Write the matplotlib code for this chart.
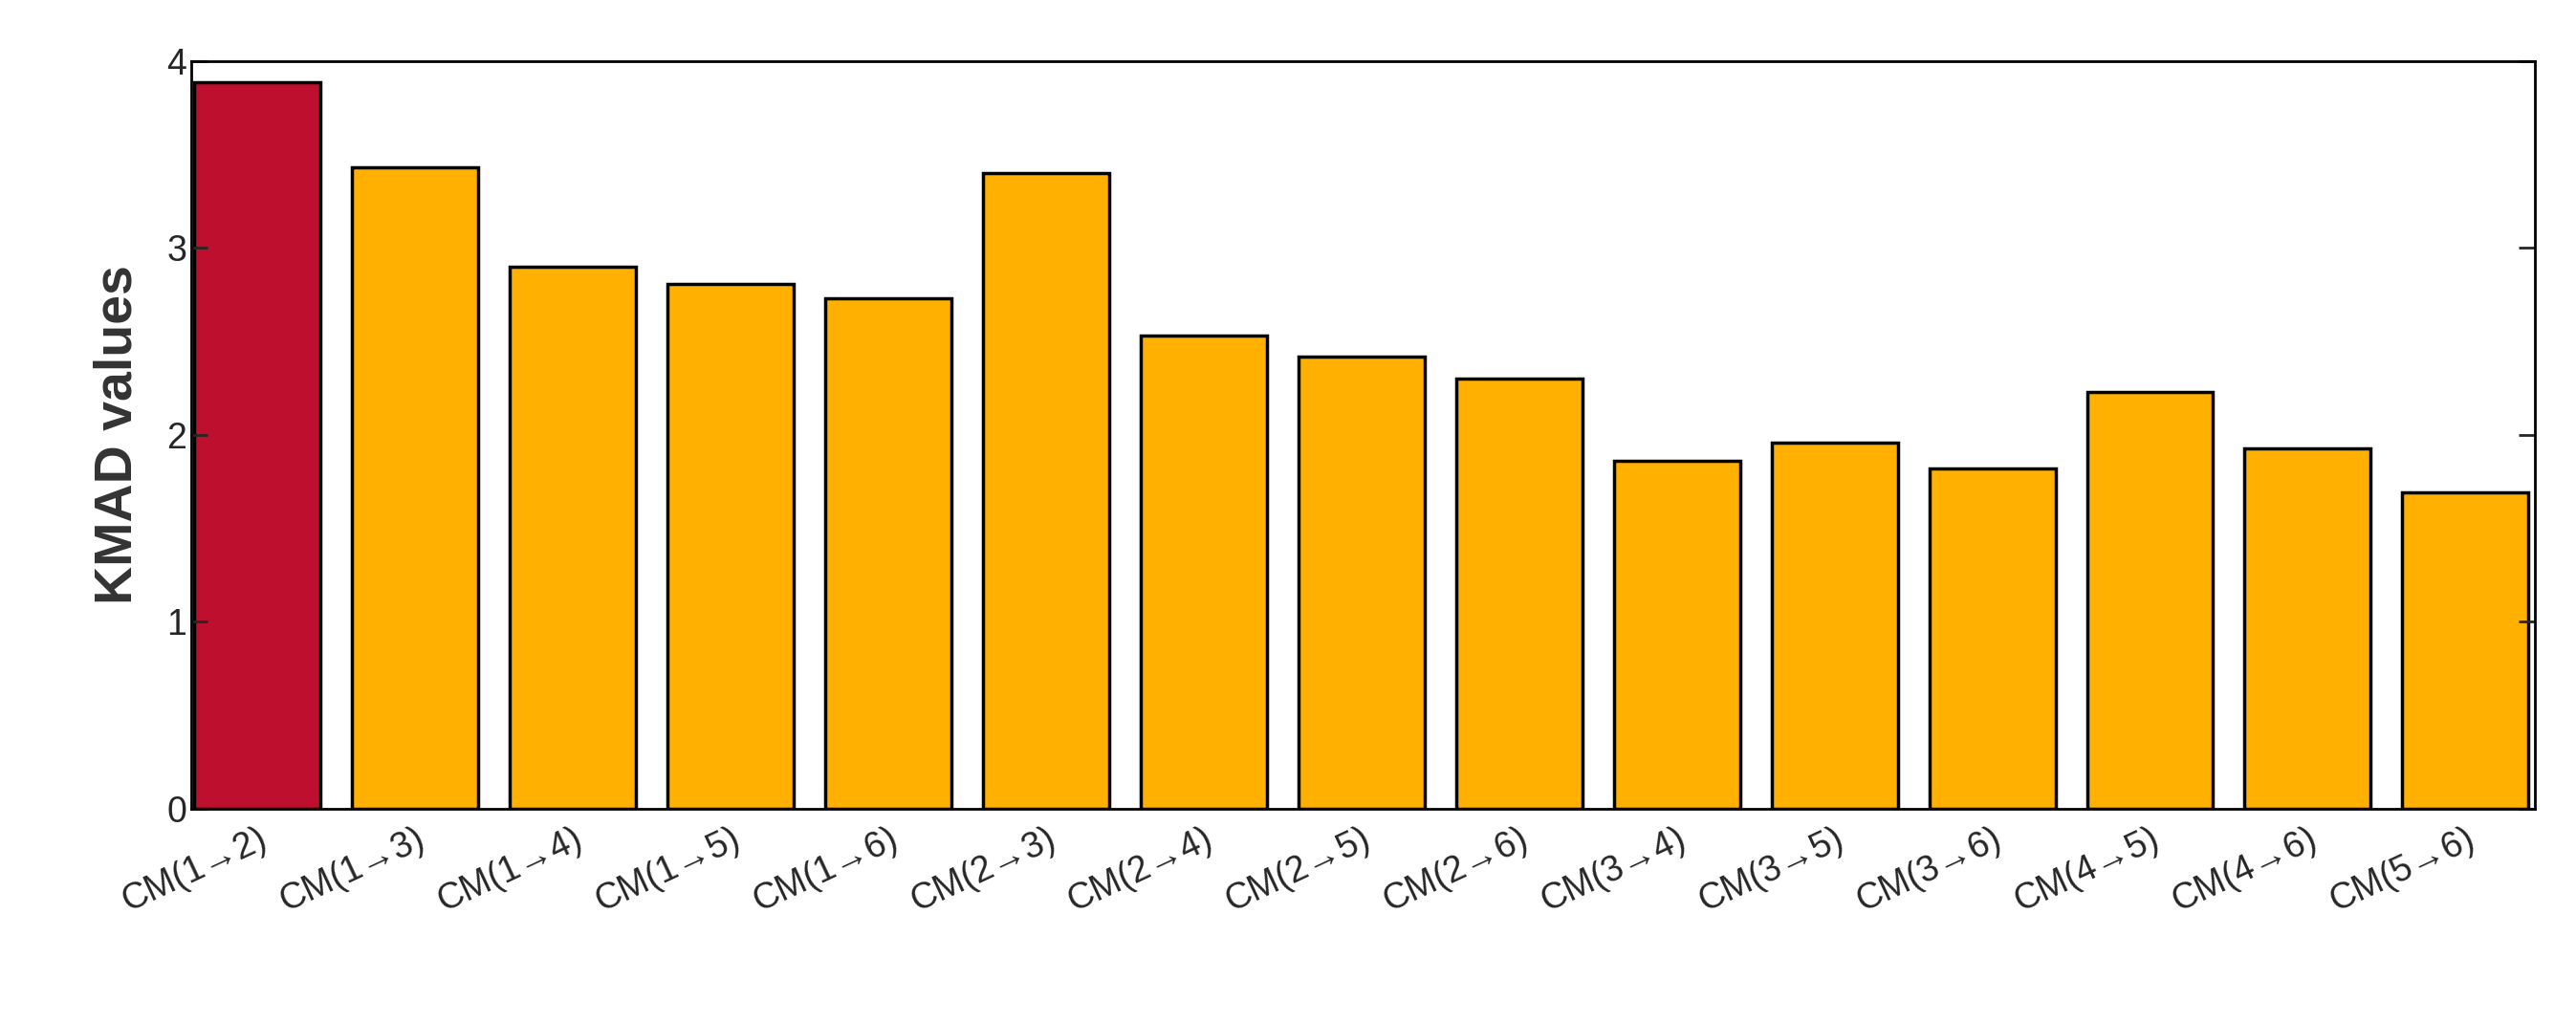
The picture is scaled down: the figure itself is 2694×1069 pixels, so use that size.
import matplotlib
matplotlib.use("Agg")
import matplotlib.pyplot as plt

categories = ["CM(1→2)","CM(1→3)","CM(1→4)","CM(1→5)","CM(1→6)","CM(2→3)","CM(2→4)",
              "CM(2→5)","CM(2→6)","CM(3→4)","CM(3→5)","CM(3→6)","CM(4→5)","CM(4→6)","CM(5→6)"]
values = [3.89, 3.43, 2.90, 2.81, 2.73, 3.40, 2.53, 2.42, 2.30, 1.86, 1.96, 1.82, 2.23, 1.93, 1.69]
colors = ["#BE0F2E"] + ["#FFB000"] * 14

plt.rcParams['font.family'] = ['Arial', 'Liberation Sans', 'DejaVu Sans']
fig = plt.figure(figsize=(26.94, 10.69), dpi=100)
ax = fig.add_axes([0.0743, 0.209, 0.9097, 0.731])
x = range(len(categories))
ax.bar(x, values, width=0.8, color=colors, edgecolor="black", linewidth=2.5)
ax.set_xlim(-0.42, 14.44)
ax.set_ylim(0, 4)
ax.set_yticks([0, 1, 2, 3, 4])
ax.set_xticks(list(x))
ax.set_xticklabels(categories, rotation=25, ha="right", rotation_mode="anchor", fontsize=27, color="#262626")
ax.tick_params(axis="y", labelsize=27, colors="#262626", direction="in", right=True, length=12, width=2)
ax.tick_params(axis="x", length=0, pad=10)
for s in ax.spines.values():
    s.set_linewidth(2)
ax.set_ylabel("KMAD values", fontsize=40, fontweight="bold", color="#333333", labelpad=18)
fig.savefig("out.png", dpi=100)
